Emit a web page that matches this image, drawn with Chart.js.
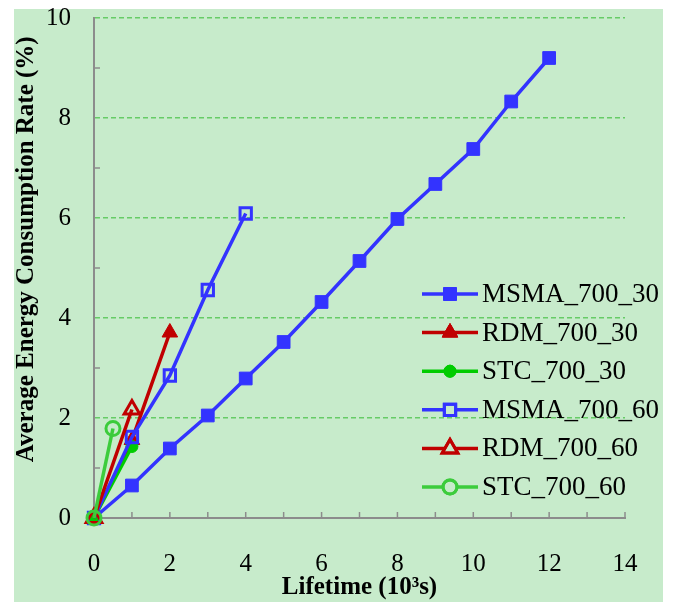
<!DOCTYPE html>
<html>
<head>
<meta charset="utf-8">
<script src="https://cdn.jsdelivr.net/npm/chart.js@4/dist/chart.umd.min.js"></script>
<style>
  html, body { margin: 0; padding: 0; background: #fff; }
  #wrap { position: relative; width: 678px; height: 606px; }
</style>
</head>
<body>
<div id="wrap"><canvas id="chart" width="678" height="606"></canvas></div>
<script>
// ===== DATA =====
const seriesNames = ['MSMA_700_30', 'RDM_700_30', 'STC_700_30', 'MSMA_700_60', 'RDM_700_60', 'STC_700_60'];

const msma30X = [0, 1, 2, 3, 4, 5, 6, 7, 8, 9, 10, 11, 12];
const msma30Y = [0, 0.65, 1.39, 2.05, 2.79, 3.52, 4.32, 5.14, 5.98, 6.68, 7.38, 8.33, 9.2];
const rdm30X = [0, 1, 2];
const rdm30Y = [0, 1.56, 3.71];
const stc30X = [0, 1];
const stc30Y = [0, 1.43];
const msma60X = [0, 1, 2, 3, 4];
const msma60Y = [0, 1.62, 2.85, 4.56, 6.09];
const rdm60X = [0, 1];
const rdm60Y = [0, 2.17];
const stc60X = [0, 0.5];
const stc60Y = [0, 1.79];

const xTicks = [0, 2, 4, 6, 8, 10, 12, 14];
const yTicks = [0, 2, 4, 6, 8, 10];

const FONT = "'Liberation Serif', 'Times New Roman', serif";
const BLUE = '#3333ff';
const RED = '#c00000';
const GREEN = '#00cc00';
const GREEN2 = '#3ccc3c';

function pts(xs, ys) {
  return xs.map((x, i) => ({ x: x, y: ys[i] }));
}

// style cho tung series (mau, marker, rong/dac)
const styles = [
  { color: BLUE,   shape: 'rect',     r: 9, fill: true },
  { color: RED,    shape: 'triangle', r: 9, fill: true },
  { color: GREEN,  shape: 'circle',   r: 6, fill: true },
  { color: BLUE,   shape: 'rect',     r: 8, fill: false },
  { color: RED,    shape: 'triangle', r: 9, fill: false },
  { color: GREEN2, shape: 'circle',   r: 7, fill: false }
];

const rawData = [
  pts(msma30X, msma30Y), pts(rdm30X, rdm30Y), pts(stc30X, stc30Y),
  pts(msma60X, msma60Y), pts(rdm60X, rdm60Y), pts(stc60X, stc60Y)
];

const datasets = seriesNames.map((name, i) => {
  const s = styles[i];
  return {
    label: name,
    data: rawData[i],
    borderColor: s.color,
    borderWidth: 3.5,
    pointStyle: s.shape,
    pointRadius: s.r,
    pointHoverRadius: s.r,
    pointBackgroundColor: s.fill ? s.color : 'rgba(0,0,0,0)',
    pointBorderColor: s.color,
    pointBorderWidth: s.fill ? 1 : 3,
    tension: 0,
    clip: false,
    order: seriesNames.length - i   // series sau ve de len tren
  };
});

// ===== PLUGINS =====
const bgPlugin = {
  id: 'bg',
  beforeDraw(chart) {
    const ctx = chart.ctx;
    ctx.save();
    ctx.fillStyle = '#c7ebcb';
    ctx.fillRect(14, 9, 649, 593);
    ctx.restore();
  }
};

// vach chia nho huong vao trong
const tickMarks = {
  id: 'tickMarks',
  beforeDatasetsDraw(chart) {
    const { ctx, scales: { x, y } } = chart;
    ctx.save();
    ctx.strokeStyle = '#8c8c8c';
    ctx.lineWidth = 1.5;
    for (let v = 1; v <= 14; v++) {
      const px = x.getPixelForValue(v);
      ctx.beginPath();
      ctx.moveTo(px, y.bottom);
      ctx.lineTo(px, y.bottom - 6);
      ctx.stroke();
    }
    for (let v = 1; v <= 10; v += 2) {
      const py = y.getPixelForValue(v);
      ctx.beginPath();
      ctx.moveTo(x.left, py);
      ctx.lineTo(x.left + 6, py);
      ctx.stroke();
    }
    ctx.restore();
  }
};

function drawMarker(ctx, s, cx, cy) {
  Chart.helpers.drawPoint(ctx, {
    pointStyle: s.shape,
    radius: s.r,
    borderWidth: s.fill ? 1 : 3,
    rotation: 0
  }, cx, cy);
  if (s.fill) ctx.fill();
  ctx.stroke();
}

// legend ve tay ben trong vung ve
const legendPlugin = {
  id: 'legendBox',
  afterDatasetsDraw(chart) {
    const ctx = chart.ctx;
    ctx.save();
    ctx.font = '27px ' + FONT;
    ctx.textBaseline = 'middle';
    ctx.textAlign = 'left';
    seriesNames.forEach((name, i) => {
      const s = styles[i];
      const cy = 294 + i * 38.6;
      ctx.strokeStyle = s.color;
      ctx.lineWidth = 3.5;
      ctx.beginPath();
      ctx.moveTo(422, cy);
      ctx.lineTo(478, cy);
      ctx.stroke();
      ctx.fillStyle = s.fill ? s.color : '#c7ebcb';
      ctx.strokeStyle = s.color;
      ctx.lineWidth = s.fill ? 1 : 3;
      drawMarker(ctx, s, 450, cy);
      ctx.fillStyle = '#000';
      ctx.fillText(name, 482, cy + 1);
    });
    ctx.restore();
  }
};

// ===== CHART =====
new Chart(document.getElementById('chart'), {
  type: 'line',
  data: { datasets: datasets },
  options: {
    responsive: false,
    animation: false,
    events: [],
    layout: { padding: { left: 10, right: 53, top: 18, bottom: 3 } },
    plugins: {
      legend: { display: false },
      tooltip: { enabled: false }
    },
    scales: {
      x: {
        type: 'linear',
        min: 0,
        max: 14,
        afterFit(scale) {
          scale.height = 85;
          scale.paddingLeft = 0;
          scale.paddingRight = 0;
        },
        afterBuildTicks(scale) {
          scale.ticks = Array.from({ length: 15 }, (_, v) => ({ value: v }));
        },
        ticks: {
          autoSkip: false,
          maxRotation: 0,
          padding: 31,
          color: '#000',
          font: { family: FONT, size: 25 },
          callback: v => xTicks.includes(v) ? String(v) : ''
        },
        grid: { color: 'rgba(0,0,0,0)', drawTicks: false },
        border: { display: true, color: '#8c8c8c', width: 2 },
        title: {
          display: true,
          text: 'Lifetime (10³s)',
          color: '#000',
          font: { family: FONT, size: 25, weight: 'bold' },
          padding: { top: 0, bottom: 0 }
        }
      },
      y: {
        min: 0,
        max: 10,
        afterFit(scale) {
          scale.width = 84;
          scale.paddingTop = 0;
          scale.paddingBottom = 0;
        },
        afterBuildTicks(scale) {
          scale.ticks = Array.from({ length: 11 }, (_, v) => ({ value: v }));
        },
        ticks: {
          autoSkip: false,
          padding: 23,
          color: '#000',
          font: { family: FONT, size: 25 },
          callback: v => yTicks.includes(v) ? String(v) : ''
        },
        grid: {
          drawTicks: false,
          lineWidth: 1.5,
          color: c => (c.tick && c.tick.value > 0 && c.tick.value % 2 === 0) ? '#66cc66' : 'rgba(0,0,0,0)'
        },
        border: { display: true, color: '#8c8c8c', width: 2, dash: [5, 3], dashOffset: 0 },
        title: {
          display: true,
          // dau cach dau dong de day chu len tren mot chut nhu ban goc
          text: '      Average Energy Consumption Rate (%)',
          color: '#000',
          font: { family: FONT, size: 25, weight: 'bold' },
          padding: { top: 2, bottom: 0 }
        }
      }
    }
  },
  plugins: [bgPlugin, tickMarks, legendPlugin]
});
</script>
</body>
</html>
